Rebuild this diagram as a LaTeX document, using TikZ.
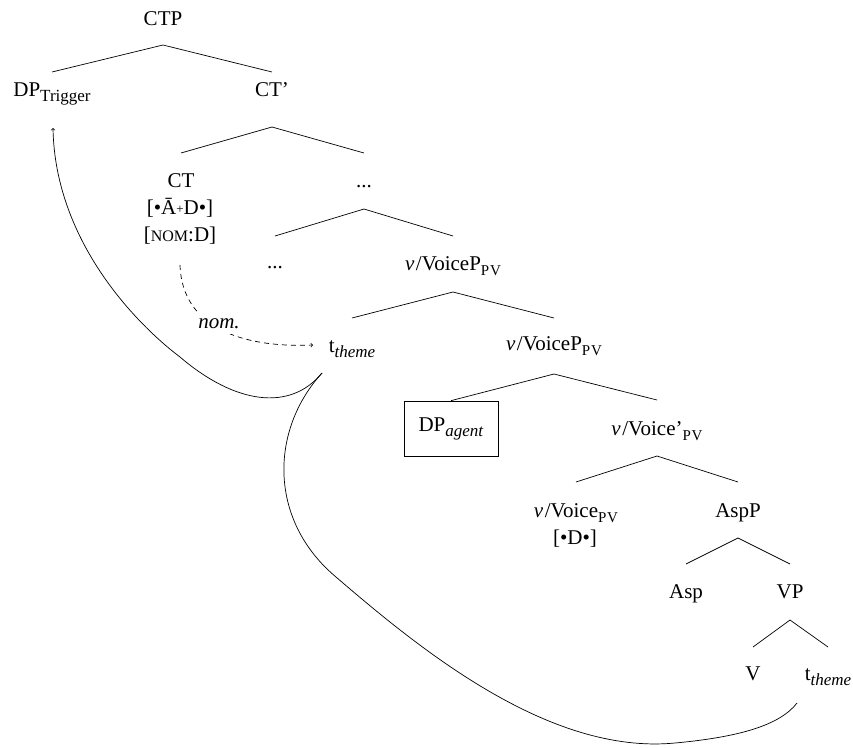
\documentclass[tikz,border=0pt]{standalone}
\usepackage{fontspec}
\setmainfont{Liberation Serif}
\usetikzlibrary{calc}
\newcommand\subsc[1]{\raisebox{-5pt}{\fontsize{17}{17}\selectfont #1}}
\newcommand\pvsub{\raisebox{-5pt}{\fontsize{15}{15}\selectfont P\kern0.8pt V}}
\newcommand\nomsc{{\fontsize{16}{16}\selectfont NOM}}
\newcommand\smplus{\raisebox{1pt}{\fontsize{13}{13}\selectfont +}}
\newcommand\vit{\textit{v}\kern1.5pt}
\newcommand\treeedge[4]{\draw[branch] ($(#1.base)+(0,#2)$) -- ($(#3.base)+(0,-#4)$);}
\begin{document}
\begin{tikzpicture}[x=1pt,y=-1pt,
  lbl/.style={anchor=base, inner sep=0pt, font=\fontsize{21}{25}\selectfont},
  branch/.style={line width=0.7pt},
  mv/.style={line width=0.7pt},
  nomdash/.style={dash pattern=on 5pt off 4pt},
  agentbox/.style={draw, line width=0.7pt, minimum width=94pt, minimum height=55pt, inner sep=0pt, font=\fontsize{21}{25}\selectfont}]
\useasboundingbox (0,0) rectangle (853,747);

% nodes
\node[lbl] (ctp) at (163,25) {CTP};
\node[lbl] (dpt) at (52,96) {DP\subsc{Trigger}};
\node[lbl] (ctb) at (272,96) {CT’};
\node[lbl] (ct) at (181,187) {CT};
\node[lbl] (ctf1) at (180,214) {[•Ā\smplus D•]};
\node[lbl] (ctf2) at (180,241) {[\nomsc:D]};
\node[lbl] (dots1) at (364,187) {...};
\node[lbl] (dots2) at (275,268) {...};
\node[lbl] (vvp1) at (453,270) {\vit/VoiceP\pvsub};
\node[lbl] (tth1) at (352,352) {t\subsc{\textit{theme}}};
\node[lbl] (vvp2) at (554,350) {\vit/VoiceP\pvsub};
\node[agentbox] (dpa) at (451,428.5) {DP\subsc{\textit{agent}}};
\node[lbl] (vvb) at (657,435) {\vit/Voice’\pvsub};
\node[lbl] (vv) at (576,517) {\vit/Voice\pvsub};
\node[lbl] (vvf) at (575,544) {[•D•]};
\node[lbl] (aspp) at (738,517) {AspP};
\node[lbl] (asp) at (686,598) {Asp};
\node[lbl] (vp) at (790,598) {VP};
\node[lbl] (v) at (753,680) {V};
\node[lbl] (tth2) at (828,680) {t\subsc{\textit{theme}}};

% branches
\treeedge{ctp}{20}{dpt}{24}
\treeedge{ctp}{20}{ctb}{24}
\treeedge{ctb}{31}{ct}{34}
\treeedge{ctb}{31}{dots1}{34}
\treeedge{dots1}{22}{dots2}{32}
\treeedge{dots1}{22}{vvp1}{34}
\treeedge{vvp1}{22}{tth1}{34}
\treeedge{vvp1}{22}{vvp2}{32}
\draw[branch] ($(vvp2.base)+(0,24)$) -- (dpa.north);
\treeedge{vvp2}{24}{vvb}{35}
\treeedge{vvb}{21}{vv}{35}
\treeedge{vvb}{21}{aspp}{35}
\treeedge{aspp}{21}{asp}{34}
\treeedge{aspp}{21}{vp}{34}
\treeedge{vp}{22}{v}{33}
\treeedge{vp}{22}{tth2}{33}

% movement arcs
\draw[mv,->] ($(tth1.base)+(-30,21)$) .. controls (290,412) and (235,404) .. (180,357)
  .. controls (135,323) and (55,240) .. ($(dpt.base)+(1,32)$);
\draw[mv] ($(tth1.base)+(-30,21)$) .. controls (270,430) and (268,520) .. (336,577)
  .. controls (422,651) and (550,755) .. (675,743)
  .. controls (740,737) and (780,725) .. ($(tth2.base)+(-31,23)$);

% case assignment
\draw[mv,nomdash,->] ($(ctf2.base)+(0,24)$) .. controls (182,328) and (243,348) .. ($(tth1.base)+(-39,-7)$);
\node[lbl, fill=white, inner xsep=5pt, inner ysep=6pt] (nom) at (219,328) {\textit{nom.}};
\end{tikzpicture}
\end{document}
